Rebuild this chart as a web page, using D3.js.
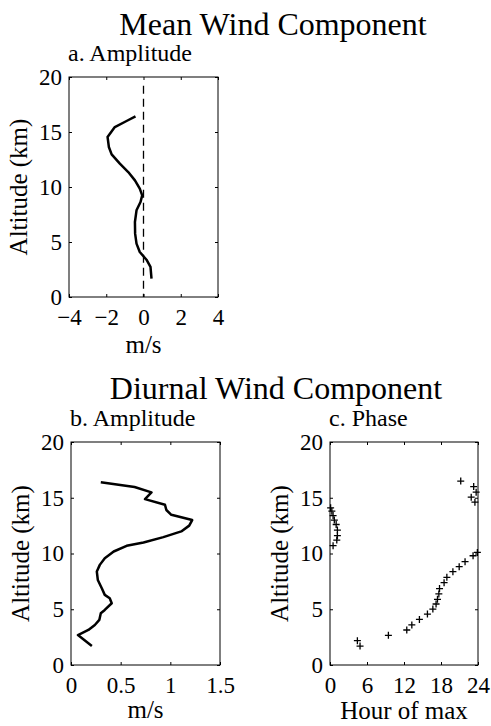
<!DOCTYPE html>
<html>
<head>
<meta charset="utf-8">
<script src="https://cdn.jsdelivr.net/npm/d3@7"></script>
<style>
  body { margin: 0; background: #fff; }
</style>
</head>
<body>
<div id="chart"></div>
<script>
// mean wind amplitude profile: [m/s, km]
var meanU = [0.43, 0.375, 0.16, -0.2, -0.375, -0.45, -0.46, -0.375, -0.16, -0.07, -0.2, -0.46, -0.82, -1.27, -1.71, -1.86, -1.93, -1.54, -0.91, -0.43];
var meanAlt = [1.67, 2.73, 3.39, 4.09, 4.85, 5.76, 6.82, 7.88, 8.64, 9.24, 9.85, 10.6, 11.36, 12.12, 12.97, 13.64, 14.55, 15.45, 16.0, 16.42];

// diurnal amplitude profile
var diurAmp = [0.21, 0.07, 0.175, 0.24, 0.285, 0.30, 0.34, 0.41, 0.39, 0.34, 0.31, 0.27, 0.26, 0.29, 0.34, 0.43, 0.56, 0.73, 0.93, 1.11, 1.19, 1.22, 1.01, 0.96, 0.946, 0.745, 0.81, 0.64, 0.30];
var diurAlt = [1.71, 2.69, 3.14, 3.59, 4.04, 4.64, 4.94, 5.54, 5.99, 6.29, 6.89, 7.63, 8.38, 8.98, 9.58, 10.18, 10.69, 10.99, 11.47, 11.98, 12.5, 13.0, 13.47, 13.9, 14.37, 14.88, 15.48, 15.96, 16.4];

// diurnal phase (hour of max)
var phaseHour = [4.44, 4.87, 9.47, 12.45, 13.27, 14.5, 15.8, 16.68, 17.2, 17.43, 17.65, 17.76, 18.5, 18.95, 19.93, 20.95, 21.9, 23.2, 23.9,
                 0.5, 1.1, 1.2, 1.2, 1.0, 0.7, 0.5, 0.3, 0.1,
                 23.5, 22.9, 23.7, 23.3, 21.2];
var phaseAlt = [2.18, 1.70, 2.66, 3.14, 3.59, 4.09, 4.57, 5.02, 5.47, 5.89, 6.37, 6.85, 7.38, 7.86, 8.37, 8.82, 9.27, 9.8, 10.1,
                10.7, 11.2, 11.6, 12.1, 12.6, 13.0, 13.4, 13.8, 14.1,
                14.6, 15.05, 15.5, 16.0, 16.5];

var altTicks = [0, 5, 10, 15, 20];
var meanTicks = [-4, -2, 0, 2, 4];
var ampTicks = [0, 0.5, 1, 1.5];
var hourTicks = [0, 6, 12, 18, 24];

var w = 491, h = 726;
var svg = d3.select("#chart").append("svg").attr("width", w).attr("height", h);

function zip(a, b) {
    return a.map(function(v, i) { return [v, b[i]]; });
}

function panel(o) {
    var x = d3.scaleLinear().domain(o.xDomain).range([o.left, o.right]);
    var y = d3.scaleLinear().domain([0, 20]).range([o.bottom, o.top]);
    var g = svg.append("g");

    g.append("rect")
        .attr("x", o.left).attr("y", o.top)
        .attr("width", o.right - o.left).attr("height", o.bottom - o.top)
        .attr("fill", "none").attr("stroke", "#000").attr("stroke-width", 1);

    var fmt = function(d) { return d < 0 ? "\u2212" + Math.abs(d) : d; };

    g.append("g").attr("transform", "translate(0," + o.bottom + ")")
        .call(d3.axisBottom(x).tickValues(o.xTicks).tickSize(-3).tickPadding(12).tickFormat(fmt))
        .call(function(a) { a.select(".domain").remove(); a.selectAll("text").style("font-size", "23px"); });
    g.append("g").attr("transform", "translate(0," + o.top + ")")
        .call(d3.axisTop(x).tickValues(o.xTicks).tickSize(-3).tickFormat(""))
        .call(function(a) { a.select(".domain").remove(); });
    g.append("g").attr("transform", "translate(" + o.left + ",0)")
        .call(d3.axisLeft(y).tickValues(altTicks).tickSize(-3).tickPadding(7))
        .call(function(a) { a.select(".domain").remove(); a.selectAll("text").style("font-size", "23px"); });
    g.append("g").attr("transform", "translate(" + o.right + ",0)")
        .call(d3.axisRight(y).tickValues(altTicks).tickSize(-3).tickFormat(""))
        .call(function(a) { a.select(".domain").remove(); });

    g.append("text")
        .attr("transform", "translate(" + (o.left - 42) + "," + ((o.top + o.bottom) / 2) + ") rotate(-90)")
        .attr("text-anchor", "middle").style("font-size", "25px")
        .text("Altitude (km)");
    g.append("text")
        .attr("x", (o.left + o.right) / 2).attr("y", o.bottom + o.xLabelGap)
        .attr("text-anchor", "middle").style("font-size", "25px")
        .text(o.xLabel);
    g.append("text")
        .attr("x", o.left - 1).attr("y", o.top - 16)
        .style("font-size", "24px")
        .text(o.sub);

    return { g: g, x: x, y: y };
}

// top: mean wind
var pa = panel({ left: 69, right: 218, top: 77, bottom: 297, xDomain: [-4, 4], xTicks: meanTicks, xLabel: "m/s", xLabelGap: 56, sub: "a. Amplitude" });
pa.g.append("line")
    .attr("x1", pa.x(0)).attr("x2", pa.x(0))
    .attr("y1", pa.y(19.2)).attr("y2", pa.y(0))
    .attr("stroke", "#000").attr("stroke-width", 1.3).attr("stroke-dasharray", "8,5");
pa.g.append("path")
    .datum(zip(meanU, meanAlt))
    .attr("fill", "none").attr("stroke", "#000").attr("stroke-width", 2.5)
    .attr("stroke-linejoin", "round")
    .attr("d", d3.line().x(function(d) { return pa.x(d[0]); }).y(function(d) { return pa.y(d[1]); }));

// bottom left: diurnal amplitude
var pb = panel({ left: 71, right: 220, top: 442, bottom: 665, xDomain: [0, 1.5], xTicks: ampTicks, xLabel: "m/s", xLabelGap: 53, sub: "b. Amplitude" });
pb.g.append("path")
    .datum(zip(diurAmp, diurAlt))
    .attr("fill", "none").attr("stroke", "#000").attr("stroke-width", 2.5)
    .attr("stroke-linejoin", "round")
    .attr("d", d3.line().x(function(d) { return pb.x(d[0]); }).y(function(d) { return pb.y(d[1]); }));

// bottom right: diurnal phase
var pc = panel({ left: 330, right: 478, top: 442, bottom: 665, xDomain: [0, 24], xTicks: hourTicks, xLabel: "Hour of max", xLabelGap: 54, sub: "c. Phase" });
pc.g.selectAll(".plus")
    .data(zip(phaseHour, phaseAlt))
    .enter().append("path")
    .attr("class", "plus")
    .attr("transform", function(d) { return "translate(" + pc.x(d[0]) + "," + pc.y(d[1]) + ")"; })
    .attr("d", "M-3.5,0H3.5M0,-3.5V3.5")
    .attr("stroke", "#000").attr("stroke-width", 1.3);

// titles
svg.append("text").attr("x", 273).attr("y", 35).attr("text-anchor", "middle")
    .style("font-size", "32px").text("Mean Wind Component");
svg.append("text").attr("x", 276).attr("y", 399).attr("text-anchor", "middle")
    .style("font-size", "32px").text("Diurnal Wind Component");

// every text in the serif face of the original
svg.selectAll("text").style("font-family", "'Liberation Serif', serif").style("fill", "#000");
</script>
</body>
</html>
